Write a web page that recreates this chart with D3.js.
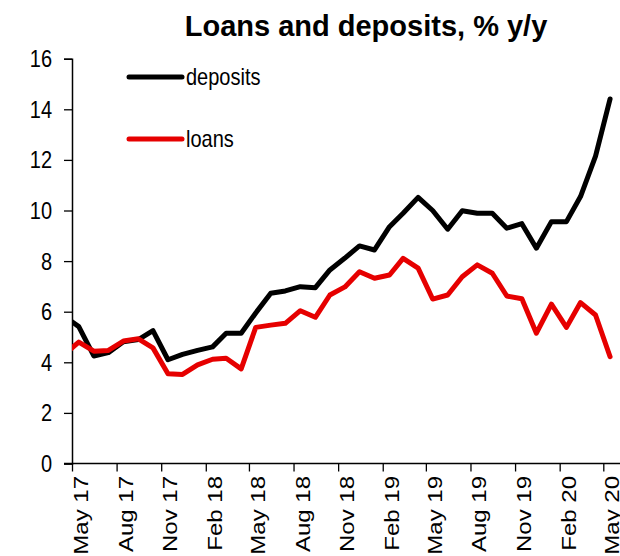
<!DOCTYPE html>
<html><head><meta charset="utf-8">
<script src="https://cdn.jsdelivr.net/npm/d3@7"></script>
<style>body{margin:0;background:#fff}svg{display:block}text{font-family:"Liberation Sans",Arial,sans-serif;fill:#000}</style>
</head><body><svg id="c" width="620" height="556"></svg>
<script>
// ---- data ----
const months = ["2017-04-15","2017-05-15","2017-06-15","2017-07-15","2017-08-15","2017-09-15","2017-10-15","2017-11-15","2017-12-15",
  "2018-01-15","2018-02-15","2018-03-15","2018-04-15","2018-05-15","2018-06-15","2018-07-15","2018-08-15","2018-09-15","2018-10-15","2018-11-15","2018-12-15",
  "2019-01-15","2019-02-15","2019-03-15","2019-04-15","2019-05-15","2019-06-15","2019-07-15","2019-08-15","2019-09-15","2019-10-15","2019-11-15","2019-12-15",
  "2020-01-15","2020-02-15","2020-03-15","2020-04-15","2020-05-15"];
const deposits = [5.82,5.41,4.25,4.38,4.81,4.90,5.25,4.10,4.31,4.47,4.61,5.15,5.15,5.95,6.73,6.82,6.99,6.95,7.65,8.12,8.60,
  8.44,9.36,9.89,10.52,10.00,9.26,9.99,9.89,9.89,9.30,9.48,8.51,9.56,9.56,10.55,12.15,14.41];
const loans = [4.31,4.80,4.44,4.47,4.84,4.93,4.57,3.55,3.52,3.90,4.12,4.16,3.74,5.38,5.47,5.54,6.04,5.78,6.66,6.98,7.58,
  7.32,7.45,8.11,7.72,6.50,6.66,7.38,7.85,7.52,6.62,6.51,5.15,6.30,5.38,6.36,5.87,4.22];
const xTickLabels = ["May 17","Aug 17","Nov 17","Feb 18","May 18","Aug 18","Nov 18","Feb 19","May 19","Aug 19","Nov 19","Feb 20","May 20"];
const yTicks = [0,2,4,6,8,10,12,14,16];
const seriesNames = ["deposits","loans"];
const seriesColors = ["#000000","#e60000"];
const title = "Loans and deposits, % y/y";

// ---- chart ----
const svg = d3.select("#c");
const parseDay = d3.timeParse("%Y-%m-%d");
const parseTick = d3.timeParse("%b %y");
const dates = months.map(parseDay);
const tickDates = xTickLabels.map(parseTick);
const S = 1.2; // vertical text stretch

const left = 72, axisEnd = 603.3, right = 620, y0 = 463.5, yTop = 58.7;
const x = d3.scaleTime().domain([tickDates[0], tickDates[tickDates.length-1]]).range([left, axisEnd]);
const y = d3.scaleLinear().domain([0,16]).range([y0, yTop]);

svg.append("defs").append("clipPath").attr("id","clip")
  .append("rect").attr("x",left).attr("y",0).attr("width",right-left).attr("height",556);

// title
svg.append("text").attr("x",366).attr("y",36).attr("text-anchor","middle")
  .attr("font-size",29).attr("font-weight","bold").text(title);

// y axis
const yAxis = d3.axisLeft(y).tickValues(yTicks).tickSize(8).tickFormat(d3.format("d"));
const gy = svg.append("g").attr("transform",`translate(${left},0)`).call(yAxis);
gy.select(".domain").attr("stroke","#000").attr("stroke-width",1.5);
gy.selectAll(".tick line").attr("stroke","#000").attr("stroke-width",1.3);
gy.selectAll(".tick text").remove();
svg.append("g").selectAll("g").data(yTicks).join("g")
  .attr("transform",d=>`translate(52,${y(d)}) scale(1,${S})`)
  .append("text").attr("text-anchor","end").attr("dy","0.35em").attr("font-size",20).text(d=>d);

// x axis
const xAxis = d3.axisBottom(x).tickValues(tickDates).tickSize(8).tickFormat("");
const gx = svg.append("g").attr("transform",`translate(0,${y0})`).call(xAxis);
gx.select(".domain").remove();
gx.selectAll(".tick line").attr("stroke","#000").attr("stroke-width",1.3);
svg.append("line").attr("x1",left-8).attr("x2",right).attr("y1",y0).attr("y2",y0)
  .attr("stroke","#000").attr("stroke-width",1.5);
svg.append("g").selectAll("g").data(tickDates).join("g")
  .attr("transform",(d)=>`translate(${x(d)+9},476) rotate(-90) scale(${S},1)`)
  .append("text").attr("text-anchor","end").attr("dy","0.35em").attr("font-size",20)
  .text((d,i)=>xTickLabels[i]);

// lines
const seriesData = [deposits, loans];
const line = d3.line().x((d,i)=>x(dates[i])).y(d=>y(d));
svg.append("g").attr("clip-path","url(#clip)").selectAll("path").data(seriesData).join("path")
  .attr("d",d=>line(d)).attr("fill","none")
  .attr("stroke",(d,i)=>seriesColors[i]).attr("stroke-width",5)
  .attr("stroke-linejoin","round").attr("stroke-linecap","round");

// legend
const legY = [77,139];
const lg = svg.append("g").selectAll("g").data(seriesNames).join("g");
lg.append("line").attr("x1",129).attr("x2",182).attr("y1",(d,i)=>legY[i]).attr("y2",(d,i)=>legY[i])
  .attr("stroke",(d,i)=>seriesColors[i]).attr("stroke-width",5).attr("stroke-linecap","round");
lg.append("g").attr("transform",(d,i)=>`translate(186,${legY[i]}) scale(1,${S})`)
  .append("text").attr("dy","0.35em").attr("font-size",20).text(d=>d);
</script></body></html>
